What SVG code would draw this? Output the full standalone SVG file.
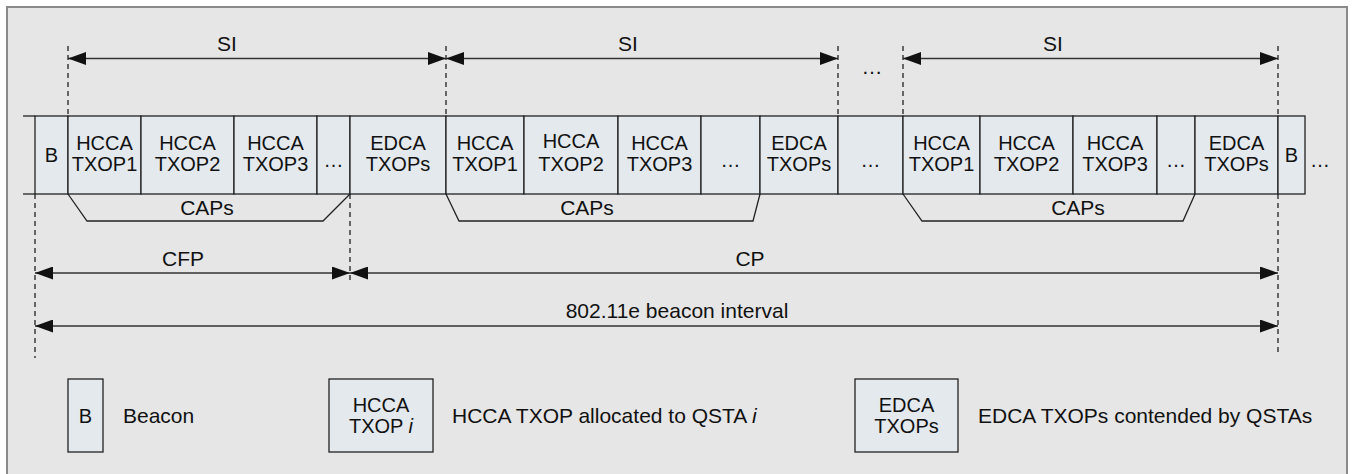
<svg xmlns="http://www.w3.org/2000/svg" width="1356" height="474" viewBox="0 0 1356 474">
<defs>
<marker id="ah" viewBox="0 0 18 13" markerUnits="userSpaceOnUse" markerWidth="18" markerHeight="13" refX="18" refY="6.5" orient="auto-start-reverse"><path d="M0,0 L18,6.5 L0,13 z" fill="#111"/></marker>
<style>
.cell{fill:#e4e9ee;stroke:#222;stroke-width:1.3}
.t{font-family:"Liberation Sans",Arial,sans-serif;font-size:20px;fill:#111;text-anchor:middle}
.tb{font-family:"Liberation Sans",Arial,sans-serif;font-size:21px;fill:#111;text-anchor:middle}
.tl{font-family:"Liberation Sans",Arial,sans-serif;font-size:21px;fill:#111}
.dash{stroke:#222;stroke-width:1.3;stroke-dasharray:5,4;fill:none}
.arr{stroke:#333;stroke-width:1.6;fill:none;marker-start:url(#ah);marker-end:url(#ah)}
.cap{stroke:#222;stroke-width:1.3;fill:none}
</style>
</defs>
<rect x="7" y="7" width="1340" height="475" fill="#e6e6e6" stroke="#8a8a8a" stroke-width="2"/>

<g id="bar">
<line x1="23" y1="116" x2="35" y2="116" stroke="#222" stroke-width="1.3"/>
<line x1="23" y1="194" x2="35" y2="194" stroke="#222" stroke-width="1.3"/>
<g id="b1"><rect class="cell" x="35" y="116" width="33" height="78"/><text class="t" x="51.5" y="162">B</text></g>
<g id="s1h1"><rect class="cell" x="68" y="116" width="73" height="78"/><text class="t" x="104.5" y="150">HCCA</text><text class="t" x="104.5" y="171">TXOP1</text></g>
<g id="s1h2"><rect class="cell" x="141" y="116" width="93" height="78"/><text class="t" x="187.5" y="150">HCCA</text><text class="t" x="187.5" y="171">TXOP2</text></g>
<g id="s1h3"><rect class="cell" x="234" y="116" width="83" height="78"/><text class="t" x="275.5" y="150">HCCA</text><text class="t" x="275.5" y="171">TXOP3</text></g>
<g id="s1d"><rect class="cell" x="317" y="116" width="33" height="78"/><text class="t" x="333.5" y="167">…</text></g>
<g id="s1e"><rect class="cell" x="350" y="116" width="96" height="78"/><text class="t" x="398" y="150">EDCA</text><text class="t" x="398" y="171">TXOPs</text></g>
<g id="s2h1"><rect class="cell" x="446" y="116" width="78" height="78"/><text class="t" x="485" y="150">HCCA</text><text class="t" x="485" y="171">TXOP1</text></g>
<g id="s2h2"><rect class="cell" x="524" y="116" width="94" height="78"/><text class="t" x="571" y="148">HCCA</text><text class="t" x="571" y="171">TXOP2</text></g>
<g id="s2h3"><rect class="cell" x="618" y="116" width="83" height="78"/><text class="t" x="659.5" y="150">HCCA</text><text class="t" x="659.5" y="171">TXOP3</text></g>
<g id="s2d"><rect class="cell" x="701" y="116" width="59" height="78"/><text class="t" x="730.5" y="167">…</text></g>
<g id="s2e"><rect class="cell" x="760" y="116" width="78" height="78"/><text class="t" x="799" y="150">EDCA</text><text class="t" x="799" y="171">TXOPs</text></g>
<g id="mid"><rect class="cell" x="838" y="116" width="65" height="78"/><text class="t" x="870.5" y="167">…</text></g>
<g id="s3h1"><rect class="cell" x="903" y="116" width="77" height="78"/><text class="t" x="941.5" y="150">HCCA</text><text class="t" x="941.5" y="171">TXOP1</text></g>
<g id="s3h2"><rect class="cell" x="980" y="116" width="93" height="78"/><text class="t" x="1026.5" y="150">HCCA</text><text class="t" x="1026.5" y="171">TXOP2</text></g>
<g id="s3h3"><rect class="cell" x="1073" y="116" width="84" height="78"/><text class="t" x="1115" y="150">HCCA</text><text class="t" x="1115" y="171">TXOP3</text></g>
<g id="s3d"><rect class="cell" x="1157" y="116" width="38" height="78"/><text class="t" x="1176" y="167">…</text></g>
<g id="s3e"><rect class="cell" x="1195" y="116" width="83" height="78"/><text class="t" x="1236.5" y="150">EDCA</text><text class="t" x="1236.5" y="171">TXOPs</text></g>
<g id="b2"><rect class="cell" x="1278" y="116" width="27" height="78"/><text class="t" x="1291.5" y="162">B</text></g>
<text class="t" x="1320" y="167">…</text>
</g>

<g id="caps">
<polyline class="cap" points="68,194 87,221 323,221 350,194"/>
<text class="tb" x="207" y="215">CAPs</text>
<polyline class="cap" points="446,194 459,221 753,221 760,194"/>
<text class="tb" x="587" y="215">CAPs</text>
<polyline class="cap" points="903,194 922,221 1183,221 1195,194"/>
<text class="tb" x="1078" y="215">CAPs</text>
</g>

<g id="connectors">
<line class="dash" x1="68" y1="46" x2="68" y2="116"/>
<line class="dash" x1="446" y1="46" x2="446" y2="116"/>
<line class="dash" x1="838" y1="46" x2="838" y2="116"/>
<line class="dash" x1="903" y1="46" x2="903" y2="116"/>
<line class="dash" x1="1278" y1="46" x2="1278" y2="116"/>
<line class="dash" x1="1278" y1="194" x2="1278" y2="355"/>
<line class="dash" x1="35" y1="194" x2="35" y2="358"/>
<line class="dash" x1="350" y1="194" x2="350" y2="280"/>
<line class="arr" x1="68" y1="58.5" x2="446" y2="58.5"/>
<line class="arr" x1="446" y1="58.5" x2="838" y2="58.5"/>
<line class="arr" x1="903" y1="58.5" x2="1278" y2="58.5"/>
<line class="arr" x1="35" y1="273" x2="350" y2="273"/>
<line class="arr" x1="350" y1="273" x2="1278" y2="273"/>
<line class="arr" x1="35" y1="326" x2="1278" y2="326"/>
</g>

<g id="labels">
<text class="tb" x="227" y="51">SI</text>
<text class="tb" x="628" y="51">SI</text>
<text class="tb" x="1053" y="51">SI</text>
<text class="tb" x="872" y="74">…</text>
<text class="tb" x="183" y="266">CFP</text>
<text class="tb" x="750" y="266">CP</text>
<text class="tb" x="677" y="318">802.11e beacon interval</text>
</g>

<g id="legend-b">
<rect class="cell" x="68" y="379" width="35" height="73"/>
<text class="t" x="85.5" y="423">B</text>
<text class="tl" x="123" y="423">Beacon</text>
</g>
<g id="legend-hcca">
<rect class="cell" x="329" y="379" width="104" height="73"/>
<text class="t" x="381" y="412">HCCA</text>
<text class="t" x="381" y="433">TXOP <tspan font-style="italic">i</tspan></text>
<text class="tl" x="452" y="423">HCCA TXOP allocated to QSTA <tspan font-style="italic">i</tspan></text>
</g>
<g id="legend-edca">
<rect class="cell" x="855" y="379" width="103" height="73"/>
<text class="t" x="906.5" y="412">EDCA</text>
<text class="t" x="906.5" y="433">TXOPs</text>
<text class="tl" x="978" y="423">EDCA TXOPs contended by QSTAs</text>
</g>
</svg>
